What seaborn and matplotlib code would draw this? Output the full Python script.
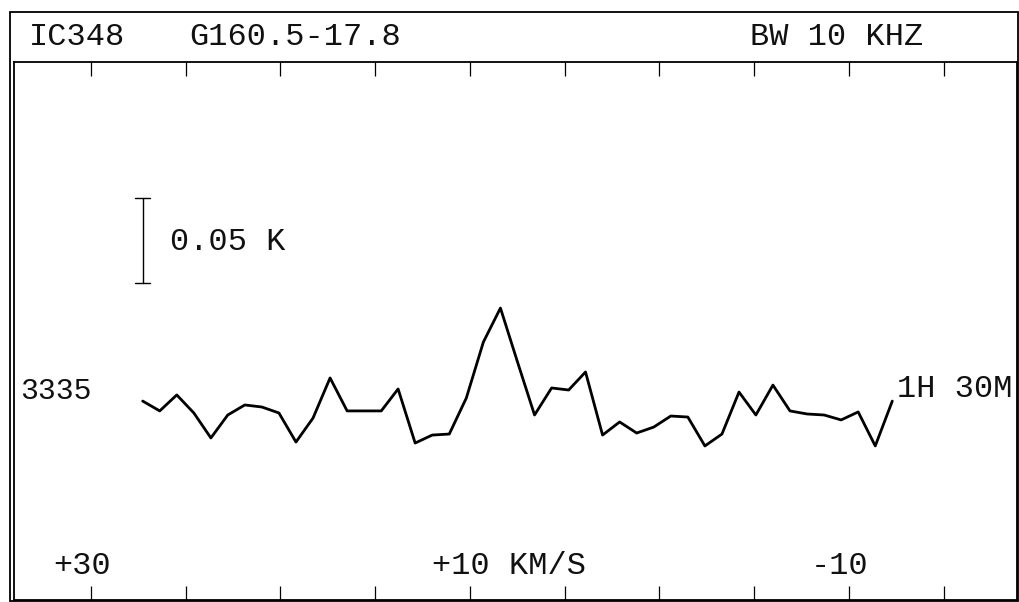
import numpy as np
import pandas as pd
import matplotlib
matplotlib.use("Agg")
import matplotlib.pyplot as plt
import matplotlib.transforms as mtransforms
from matplotlib.patches import Rectangle
import seaborn as sns

# ---- data ----
velocity_kms = [27.27, 26.37, 25.47, 24.57, 23.67, 22.78, 21.88, 20.98, 20.08, 19.18,
                18.28, 17.38, 16.48, 15.58, 14.68, 13.79, 12.89, 11.99, 11.09, 10.19,
                9.29, 8.39, 7.49, 6.59, 5.69, 4.79, 3.90, 3.00, 2.10, 1.20,
                0.30, -0.60, -1.50, -2.40, -3.30, -4.20, -5.09, -5.99, -6.89, -7.79,
                -8.69, -9.59, -10.49, -11.39, -12.29]
antenna_temp_K = [0.0082, 0.0024, 0.0118, 0.0012, -0.0135, 0.0000, 0.0059, 0.0047, 0.0012, -0.0159,
                  -0.0018, 0.0218, 0.0024, 0.0024, 0.0024, 0.0153, -0.0165, -0.0118, -0.0112, 0.0100,
                  0.0429, 0.0629, 0.0312, 0.0000, 0.0159, 0.0147, 0.0253, -0.0118, -0.0041, -0.0106,
                  -0.0071, -0.0006, -0.0012, -0.0182, -0.0112, 0.0135, 0.0000, 0.0176, 0.0024, 0.0006,
                  0.0000, -0.0029, 0.0018, -0.0182, 0.0082]
tick_velocities = [30, 25, 20, 15, 10, 5, 0, -5, -10, -15]
tick_labels = {30: "+30", 10: "+10 KM/S", -10: "-10"}
source_name = "IC348"
galactic_pos = "G160.5-17.8"
bandwidth_text = "BW 10 KHZ"
freq_text = "3335"
time_text = "1H 30M"
scale_bar_K = 0.05
scale_bar_base_K = 0.0776
scale_bar_vel = 27.27

df = pd.DataFrame({"v": velocity_kms, "T": antenna_temp_K})

# ---- figure ----
sns.set_theme(style="white")
plt.rcParams["font.family"] = ["Liberation Mono", "DejaVu Sans Mono"]
W, H = 1019, 602
fig = plt.figure(figsize=(W / 100, H / 100), dpi=100)
fig.patch.set_facecolor("white")

def fx(px):
    return px / W

def fy(py):
    return 1 - py / H

# main plot axes: inner box x 14..1017, y 62..600
ax = fig.add_axes([fx(14), fy(600), fx(1017) - fx(14), fy(62) - fy(600)])
sns.lineplot(data=df, x="v", y="T", ax=ax, color="black", lw=2.0,
             estimator=None, sort=False)
ax.set_xlim(34.06, -18.87)
ax.set_ylim(-0.1088, 0.2076)
ax.set_xlabel("")
ax.set_ylabel("")
ax.set_yticks([])
ax.set_xticks(tick_velocities)
ax.set_xticklabels([])
ax.tick_params(axis="x", which="major", direction="in", length=10, width=0.9,
               color="black", top=True, bottom=True, labelbottom=False, pad=0)
for s in ax.spines.values():
    s.set_color("black")
    s.set_linewidth(1.3)
ax.set_facecolor("white")

# scale bar (0.05 K)
ax.plot([scale_bar_vel, scale_bar_vel], [scale_bar_base_K, scale_bar_base_K + scale_bar_K],
        color="black", lw=1.0)
for yv in (scale_bar_base_K, scale_bar_base_K + scale_bar_K):
    ax.plot([scale_bar_vel + 0.4, scale_bar_vel - 0.4], [yv, yv], color="black", lw=1.0)

# outer frame
fig.add_artist(Rectangle((fx(10), fy(601)), fx(1018) - fx(10), fy(12) - fy(601),
                         transform=fig.transFigure, fill=False, edgecolor="black", lw=1.3))

fs = 23
tkw = dict(fontsize=fs, color="#111111", va="center", ha="left")
# header
fig.text(fx(29), fy(37), source_name, **tkw)
fig.text(fx(189), fy(37), galactic_pos, **tkw)
fig.text(fx(750), fy(37), bandwidth_text, **tkw)
# inner texts
fig.text(fx(20), fy(391), freq_text, **{**tkw, "fontsize": 21.5})
fig.text(fx(897), fy(389), time_text, **tkw)
fig.text(fx(170), fy(242), f"{scale_bar_K:.2f} K", **tkw)

# velocity labels near bottom, numbers centred on the tick
trans = mtransforms.blended_transform_factory(ax.transData, fig.transFigure)
for v, lab in tick_labels.items():
    ax.annotate(lab, xy=(v, fy(566)), xycoords=trans, xytext=(-38, 0),
                textcoords="offset pixels", **tkw)

fig.savefig("out.png", dpi=100, facecolor="white")
